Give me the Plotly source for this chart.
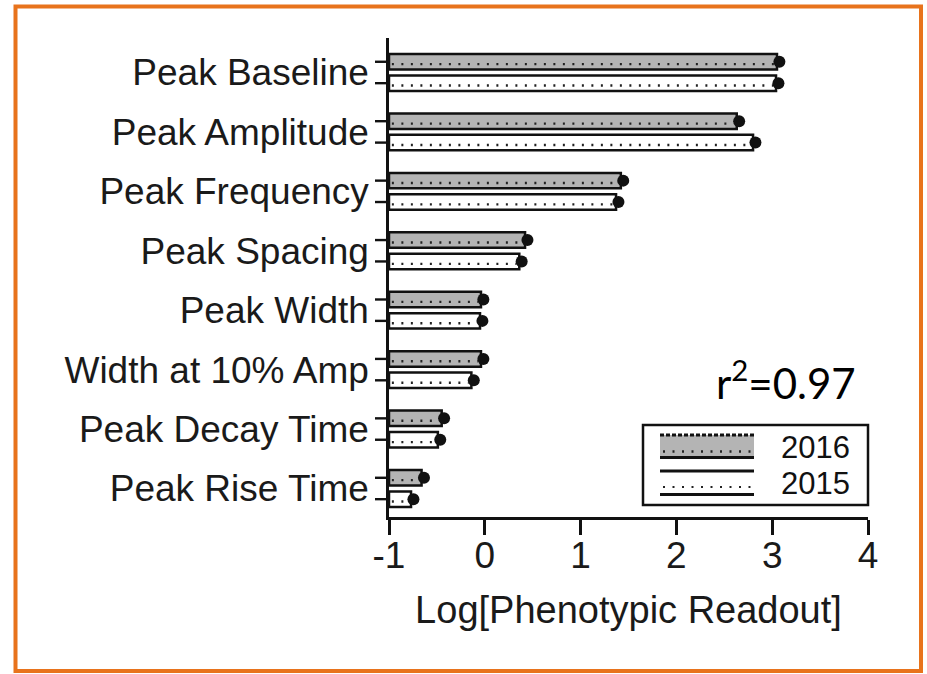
import plotly.graph_objects as go

# Phenotypic readouts (log10), two screening years
categories = ["Peak Baseline", "Peak Amplitude", "Peak Frequency", "Peak Spacing",
              "Peak Width", "Width at 10% Amp", "Peak Decay Time", "Peak Rise Time"]
log_2016 = [3.05, 2.63, 1.42, 0.42, -0.04, -0.04, -0.45, -0.66]
log_2015 = [3.04, 2.80, 1.37, 0.36, -0.05, -0.14, -0.49, -0.77]
x_ticks = [-1, 0, 1, 2, 3, 4]
r_squared = "0.97"

XMIN, XMAX = -1, 4
BAR_W = 0.26
OFF = 0.18

# page / plot geometry (px)
W, H = 927, 674
L, R, T, B = 389, 868, 38, 517
PW, PH = R - L, B - T


def px(xp):
    return (xp - L) / PW


def py(yp):
    return (B - yp) / PH


FONT = "Liberation Sans, Arial, sans-serif"
idx = list(range(len(categories)))
y16 = [i - OFF for i in idx]
y15 = [i + OFF for i in idx]

fig = go.Figure()

for vals, ys, fill in [(log_2016, y16, "#b4b4b4"), (log_2015, y15, "#ffffff")]:
    fig.add_trace(go.Bar(
        x=[v - XMIN for v in vals], y=ys, base=XMIN, orientation="h", width=BAR_W,
        marker=dict(color=fill, line=dict(color="#111111", width=2.5)),
        showlegend=False, hoverinfo="skip"))
    # dotted row inside each bar
    dx, dy = [], []
    for v, y in zip(vals, ys):
        dx += [XMIN + 0.03, v - 0.03, None]
        dy += [y + 0.04, y + 0.04, None]
    fig.add_trace(go.Scatter(
        x=dx, y=dy, mode="lines", line=dict(color="#222222", width=2.4, dash="2px,7.5px"),
        showlegend=False, hoverinfo="skip"))
    # error caps at the bar ends
    fig.add_trace(go.Scatter(
        x=[v + 0.025 for v in vals], y=ys, mode="markers",
        marker=dict(color="#111111", size=12, symbol="circle"),
        showlegend=False, hoverinfo="skip"))

shapes = []
# short ticks beside every bar
for y in y16 + y15:
    shapes.append(dict(type="line", xref="paper", yref="y", x0=px(375), x1=px(388),
                       y0=y, y1=y, line=dict(color="#111111", width=2.4)))

# legend box
shapes.append(dict(type="rect", xref="paper", yref="paper", x0=px(643), x1=px(868),
                   y0=py(505), y1=py(425), line=dict(color="#111111", width=2.5),
                   fillcolor="white"))
# 2016 swatch
shapes.append(dict(type="rect", xref="paper", yref="paper", x0=px(660), x1=px(754),
                   y0=py(457), y1=py(435), line=dict(width=0), fillcolor="#b4b4b4"))
for yy, dash in [(435, "4px,2px"), (457.5, "solid")]:
    shapes.append(dict(type="line", xref="paper", yref="paper", x0=px(660), x1=px(754),
                       y0=py(yy), y1=py(yy), line=dict(color="#111111", width=3, dash=dash)))
shapes.append(dict(type="line", xref="paper", yref="paper", x0=px(663), x1=px(754),
                   y0=py(451.5), y1=py(451.5),
                   line=dict(color="#222222", width=2.4, dash="2px,7.5px")))
# 2015 swatch
for yy in [471, 494.5]:
    shapes.append(dict(type="line", xref="paper", yref="paper", x0=px(660), x1=px(754),
                       y0=py(yy), y1=py(yy), line=dict(color="#111111", width=3)))
shapes.append(dict(type="line", xref="paper", yref="paper", x0=px(663), x1=px(754),
                   y0=py(487), y1=py(487),
                   line=dict(color="#222222", width=2.2, dash="2px,7.5px")))

# orange frame around the panel
shapes.append(dict(type="rect", xref="paper", yref="paper", x0=px(15.5), x1=px(921),
                   y0=py(671), y1=py(6.5), line=dict(color="#e8731c", width=4),
                   layer="below"))

annotations = [
    dict(text="2016", xref="paper", yref="paper", x=px(852), y=py(447), xanchor="right",
         yanchor="middle", showarrow=False, font=dict(family=FONT, size=31, color="#111111")),
    dict(text="2015", xref="paper", yref="paper", x=px(852), y=py(483), xanchor="right",
         yanchor="middle", showarrow=False, font=dict(family=FONT, size=31, color="#111111")),
    dict(text="r<sup>2</sup>=" + r_squared, xref="paper", yref="paper", x=px(786), y=py(380),
         xanchor="center", yanchor="middle", showarrow=False,
         font=dict(family="Lato, Open Sans, sans-serif", size=42, color="#000000")),
]

fig.update_layout(
    width=W, height=H,
    margin=dict(l=L, r=W - R, t=T, b=H - B, pad=0),
    paper_bgcolor="white", plot_bgcolor="white",
    shapes=shapes, annotations=annotations,
    xaxis=dict(range=[XMIN, XMAX], tickvals=x_ticks, ticktext=[str(t) for t in x_ticks],
               showgrid=False, zeroline=False, showline=True, linecolor="#111111",
               linewidth=2.5, ticks="outside", ticklen=15, tickwidth=2.5,
               tickcolor="#111111", ticklabelstandoff=-11,
               tickfont=dict(family=FONT, size=37, color="#1a1a1a"),
               title=dict(text="Log[Phenotypic Readout]", standoff=22,
                          font=dict(family=FONT, size=38, color="#1a1a1a"))),
    yaxis=dict(range=[len(categories) - 0.52, -0.58], tickvals=idx, ticktext=categories,
               showgrid=False, zeroline=False, showline=True, linecolor="#111111",
               linewidth=2.5, ticks="", ticklabelstandoff=10,
               tickfont=dict(family=FONT, size=37, color="#1a1a1a")),
)

fig.write_html("out.html")
